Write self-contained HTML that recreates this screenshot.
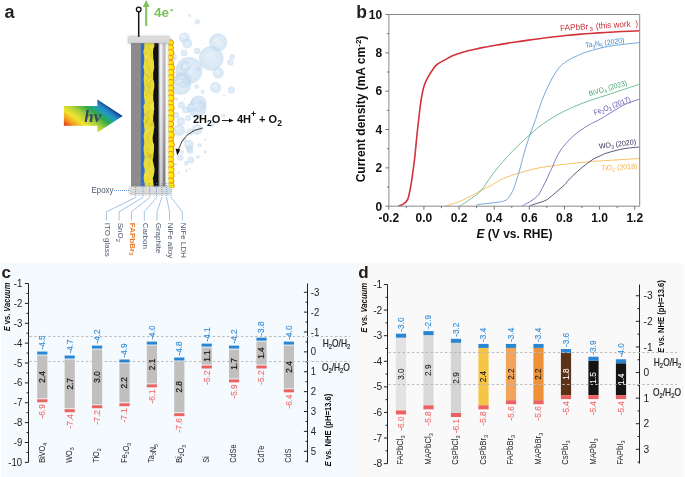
<!DOCTYPE html><html><head><meta charset="utf-8"><style>
html,body{margin:0;padding:0;background:#fff;}
svg{display:block;will-change:transform;font-family:"Liberation Sans", sans-serif;}
</style></head><body>
<svg width="685" height="477" viewBox="0 0 685 477">
<defs>
<filter id="blur1" x="-20%" y="-50%" width="140%" height="200%"><feGaussianBlur stdDeviation="0.9"/></filter>
<radialGradient id="bub" cx="0.5" cy="0.5" r="0.5"><stop offset="0" stop-color="#d2e4f4" stop-opacity="0.6"/><stop offset="0.85" stop-color="#c2daef" stop-opacity="0.62"/><stop offset="1" stop-color="#b8d4ed" stop-opacity="0.6"/></radialGradient>
<linearGradient id="graphv" x1="0" x2="0" y1="0" y2="1"><stop offset="0" stop-color="#e2e2e2"/><stop offset="0.5" stop-color="#c8c8c8"/><stop offset="1" stop-color="#8c8c8c"/></linearGradient>
<linearGradient id="graph" x1="0" x2="1" y1="0" y2="0"><stop offset="0" stop-color="#000" stop-opacity="0.15"/><stop offset="0.15" stop-color="#fff" stop-opacity="0.5"/><stop offset="0.5" stop-color="#fff" stop-opacity="0.55"/><stop offset="0.75" stop-color="#000" stop-opacity="0.05"/><stop offset="1" stop-color="#000" stop-opacity="0.35"/></linearGradient>
<linearGradient id="alloy" x1="0" x2="1" y1="0" y2="0"><stop offset="0" stop-color="#f4f4f4"/><stop offset="0.5" stop-color="#fbfbfb"/><stop offset="1" stop-color="#d8d8d8"/></linearGradient>
<linearGradient id="cap" x1="0" x2="0" y1="0" y2="1"><stop offset="0" stop-color="#dcdcdc"/><stop offset="0.8" stop-color="#d8d8d8"/><stop offset="1" stop-color="#c8c8c8"/></linearGradient>
<linearGradient id="rainbow" x1="64" y1="126" x2="90.4" y2="90.8" gradientUnits="userSpaceOnUse">
<stop offset="0" stop-color="#e3201b"/><stop offset="0.15" stop-color="#f39a1e"/><stop offset="0.3" stop-color="#f2e52c"/><stop offset="0.48" stop-color="#a8cf3a"/><stop offset="0.66" stop-color="#2ea84a"/><stop offset="0.8" stop-color="#1e9ec0"/><stop offset="0.88" stop-color="#2a7dc0"/><stop offset="0.97" stop-color="#0c3d8a"/></linearGradient>
</defs>
<text x="4.50" y="18.10" font-size="18" fill="#231f20" font-weight="bold" text-anchor="start" >a</text>
<circle cx="197.4" cy="21.8" r="2.6" fill="url(#bub)"/>
<circle cx="184.4" cy="37.8" r="5.3" fill="url(#bub)"/>
<circle cx="187.3" cy="43.6" r="4.9" fill="url(#bub)"/>
<circle cx="218.2" cy="42.4" r="9.1" fill="url(#bub)"/>
<circle cx="197.2" cy="51" r="3.2" fill="url(#bub)"/>
<circle cx="184.1" cy="53" r="3.2" fill="url(#bub)"/>
<circle cx="211.2" cy="58.2" r="12.3" fill="url(#bub)"/>
<circle cx="232.2" cy="56.5" r="2.6" fill="url(#bub)"/>
<circle cx="230.5" cy="62.3" r="3.2" fill="url(#bub)"/>
<circle cx="172.7" cy="57" r="4.1" fill="url(#bub)"/>
<circle cx="189.6" cy="15.6" r="1.5" fill="url(#bub)"/>
<circle cx="189" cy="70.5" r="13.5" fill="url(#bub)"/>
<circle cx="185.5" cy="66.4" r="5.3" fill="url(#bub)"/>
<circle cx="183.2" cy="79.9" r="8.2" fill="url(#bub)"/>
<circle cx="180.8" cy="84.5" r="10.5" fill="url(#bub)"/>
<circle cx="218.2" cy="72.8" r="5.6" fill="url(#bub)"/>
<circle cx="197.8" cy="69.3" r="2.1" fill="url(#bub)"/>
<circle cx="215.6" cy="87.4" r="5.5" fill="url(#bub)"/>
<circle cx="231.4" cy="90.1" r="3.5" fill="url(#bub)"/>
<circle cx="196.6" cy="86.6" r="2.3" fill="url(#bub)"/>
<circle cx="202.7" cy="91.8" r="2.1" fill="url(#bub)"/>
<circle cx="224.1" cy="95.6" r="1.2" fill="url(#bub)"/>
<circle cx="198.4" cy="103.8" r="8.4" fill="url(#bub)"/>
<circle cx="181.4" cy="105" r="3.5" fill="url(#bub)"/>
<circle cx="176.4" cy="99.1" r="1.8" fill="url(#bub)"/>
<circle cx="184.4" cy="99.1" r="0.9" fill="url(#bub)"/>
<circle cx="191.4" cy="107.9" r="4.7" fill="url(#bub)"/>
<circle cx="197.2" cy="108.5" r="9.3" fill="url(#bub)"/>
<circle cx="180.8" cy="121.4" r="4.1" fill="url(#bub)"/>
<circle cx="179.1" cy="130.1" r="5.8" fill="url(#bub)"/>
<circle cx="176.2" cy="114.9" r="2.9" fill="url(#bub)"/>
<circle cx="197.2" cy="129.5" r="5.3" fill="url(#bub)"/>
<circle cx="189" cy="144.7" r="4.7" fill="url(#bub)"/>
<circle cx="199.5" cy="145.3" r="2.1" fill="url(#bub)"/>
<circle cx="223.5" cy="115.5" r="2.1" fill="url(#bub)"/>
<circle cx="205.4" cy="139.5" r="1.2" fill="url(#bub)"/>
<circle cx="189.6" cy="148.8" r="3.5" fill="url(#bub)"/>
<circle cx="185.5" cy="109.7" r="3.5" fill="url(#bub)"/>
<circle cx="211.8" cy="123.7" r="2.9" fill="url(#bub)"/>
<circle cx="205.4" cy="151.7" r="1.2" fill="url(#bub)"/>
<circle cx="188" cy="118" r="3" fill="url(#bub)"/>
<circle cx="190" cy="132" r="3.5" fill="url(#bub)"/>
<circle cx="184" cy="140" r="2.5" fill="url(#bub)"/>
<circle cx="180.3" cy="157.6" r="3.2" fill="url(#bub)"/>
<circle cx="190.8" cy="159.9" r="3.5" fill="url(#bub)"/>
<circle cx="186.1" cy="163.4" r="2.3" fill="url(#bub)"/>
<circle cx="197.8" cy="157" r="2.1" fill="url(#bub)"/>
<circle cx="190.2" cy="151.2" r="2.9" fill="url(#bub)"/>
<circle cx="175" cy="164.6" r="1.8" fill="url(#bub)"/>
<circle cx="186.5" cy="170.8" r="1.4" fill="url(#bub)"/>
<circle cx="178.7" cy="172.8" r="1.2" fill="url(#bub)"/>
<circle cx="205.1" cy="151.8" r="1.2" fill="url(#bub)"/>
<circle cx="182" cy="152.1" r="1.8" fill="url(#bub)"/>
<circle cx="189.6" cy="168.7" r="0.9" fill="url(#bub)"/>
<line x1="182.02" y1="36.85" x2="184.51" y2="35.57" stroke="#fff" stroke-width="0.8" stroke-linecap="round" opacity="0.85"/>
<line x1="185.09" y1="42.72" x2="187.40" y2="41.54" stroke="#fff" stroke-width="0.8" stroke-linecap="round" opacity="0.85"/>
<line x1="214.10" y1="40.76" x2="218.38" y2="38.58" stroke="#fff" stroke-width="0.8" stroke-linecap="round" opacity="0.85"/>
<line x1="205.66" y1="55.99" x2="211.45" y2="53.03" stroke="#fff" stroke-width="0.8" stroke-linecap="round" opacity="0.85"/>
<line x1="182.93" y1="68.07" x2="189.27" y2="64.83" stroke="#fff" stroke-width="0.8" stroke-linecap="round" opacity="0.85"/>
<line x1="183.12" y1="65.45" x2="185.61" y2="64.17" stroke="#fff" stroke-width="0.8" stroke-linecap="round" opacity="0.85"/>
<line x1="179.51" y1="78.42" x2="183.36" y2="76.46" stroke="#fff" stroke-width="0.8" stroke-linecap="round" opacity="0.85"/>
<line x1="176.08" y1="82.61" x2="181.01" y2="80.09" stroke="#fff" stroke-width="0.8" stroke-linecap="round" opacity="0.85"/>
<line x1="215.68" y1="71.79" x2="218.31" y2="70.45" stroke="#fff" stroke-width="0.8" stroke-linecap="round" opacity="0.85"/>
<line x1="213.12" y1="86.41" x2="215.71" y2="85.09" stroke="#fff" stroke-width="0.8" stroke-linecap="round" opacity="0.85"/>
<line x1="194.62" y1="102.29" x2="198.57" y2="100.27" stroke="#fff" stroke-width="0.8" stroke-linecap="round" opacity="0.85"/>
<line x1="189.28" y1="107.05" x2="191.49" y2="105.93" stroke="#fff" stroke-width="0.8" stroke-linecap="round" opacity="0.85"/>
<line x1="193.01" y1="106.83" x2="197.39" y2="104.59" stroke="#fff" stroke-width="0.8" stroke-linecap="round" opacity="0.85"/>
<line x1="176.49" y1="129.06" x2="179.22" y2="127.66" stroke="#fff" stroke-width="0.8" stroke-linecap="round" opacity="0.85"/>
<line x1="194.81" y1="128.55" x2="197.31" y2="127.27" stroke="#fff" stroke-width="0.8" stroke-linecap="round" opacity="0.85"/>
<line x1="186.88" y1="143.85" x2="189.09" y2="142.73" stroke="#fff" stroke-width="0.8" stroke-linecap="round" opacity="0.85"/>
<rect x="131" y="43.0" width="10" height="143.6" fill="#8c8c8c"/>
<rect x="140.9" y="43.0" width="5" height="143.6" fill="#2b6fcf"/>
<rect x="152" y="43.0" width="6.8" height="143.6" fill="#121212"/>
<polygon points="144.22,43.00 144.34,46.00 144.18,49.00 143.31,52.00 143.94,55.00 144.42,58.00 144.16,61.00 143.85,64.00 143.30,67.00 144.10,70.00 144.29,73.00 143.99,76.00 143.63,79.00 143.97,82.00 144.10,85.00 144.38,88.00 144.13,91.00 143.92,94.00 143.99,97.00 144.45,100.00 144.78,103.00 143.51,106.00 143.88,109.00 144.02,112.00 144.35,115.00 143.98,118.00 143.53,121.00 143.98,124.00 144.16,127.00 144.62,130.00 144.12,133.00 143.51,136.00 143.99,139.00 144.23,142.00 144.12,145.00 143.60,148.00 143.77,151.00 144.14,154.00 144.47,157.00 144.29,160.00 143.62,163.00 143.64,166.00 144.61,169.00 144.69,172.00 143.82,175.00 143.65,178.00 144.00,181.00 144.81,184.00 144.64,186.60 154.16,186.60 153.26,184.00 152.88,181.00 152.86,178.00 153.79,175.00 154.33,172.00 154.56,169.00 153.99,166.00 153.31,163.00 152.64,160.00 153.28,157.00 153.47,154.00 153.94,151.00 154.03,148.00 154.13,145.00 153.03,142.00 152.66,139.00 152.79,136.00 153.53,133.00 153.79,130.00 154.41,127.00 153.86,124.00 153.18,121.00 153.15,118.00 153.38,115.00 153.67,112.00 154.27,109.00 153.98,106.00 154.04,103.00 153.30,100.00 153.23,97.00 153.28,94.00 153.55,91.00 154.19,88.00 154.35,85.00 154.05,82.00 153.18,79.00 153.18,76.00 153.10,73.00 153.78,70.00 154.26,67.00 153.96,64.00 153.90,61.00 153.05,58.00 153.10,55.00 153.00,52.00 153.34,49.00 154.49,46.00 154.13,43.00" fill="#e9db38"/>
<polygon points="145.98,176.78 147.74,178.60 146.03,180.49" fill="#efe040" opacity="0.4"/>
<polygon points="154.60,122.91 153.54,127.24 150.47,126.99 149.85,123.10 152.16,120.78" fill="#cbb925" opacity="0.4"/>
<polygon points="147.43,54.97 144.23,54.59 146.33,51.06" fill="#d2c12a" opacity="0.4"/>
<polygon points="151.88,166.26 149.40,169.85 147.95,165.08" fill="#f5e84e" opacity="0.4"/>
<polygon points="143.82,57.41 145.96,53.24 148.25,56.53 146.58,60.44" fill="#f5e84e" opacity="0.4"/>
<polygon points="148.73,181.25 151.14,178.31 153.59,179.87 153.38,184.14 150.45,184.14" fill="#f3e548" opacity="0.4"/>
<polygon points="149.04,159.36 151.45,157.43 151.35,161.06" fill="#f5e84e" opacity="0.4"/>
<polygon points="150.64,109.71 150.46,105.47 153.80,104.27 154.26,109.71" fill="#f5e84e" opacity="0.4"/>
<polygon points="144.94,157.68 144.71,155.66 146.44,155.16 147.76,156.47 146.60,158.61" fill="#d2c12a" opacity="0.4"/>
<polygon points="145.67,145.18 147.85,145.34 146.64,148.29" fill="#f3e548" opacity="0.4"/>
<polygon points="146.14,118.03 148.16,123.04 144.91,123.97" fill="#d2c12a" opacity="0.4"/>
<polygon points="146.50,83.41 146.61,77.20 150.23,79.99" fill="#efe040" opacity="0.4"/>
<polygon points="152.73,105.59 150.99,105.35 150.44,103.21 151.93,101.68 152.99,103.27" fill="#efe040" opacity="0.4"/>
<polygon points="150.78,119.99 147.40,121.18 148.57,115.12" fill="#d2c12a" opacity="0.4"/>
<polygon points="150.35,109.58 147.91,108.56 148.35,105.21 150.52,103.60 152.24,106.85" fill="#f3e548" opacity="0.4"/>
<polygon points="145.70,164.41 145.58,160.50 147.86,161.95" fill="#f5e84e" opacity="0.4"/>
<polygon points="153.04,64.34 152.24,67.30 150.49,65.56 151.23,63.12" fill="#f3e548" opacity="0.4"/>
<polygon points="145.02,94.35 146.52,93.06 147.31,95.23 145.64,96.64" fill="#d2c12a" opacity="0.4"/>
<polygon points="148.44,58.66 145.64,57.18 147.77,54.19" fill="#efe040" opacity="0.4"/>
<polygon points="147.32,112.75 149.23,113.32 148.35,115.36 146.40,114.58" fill="#d2c12a" opacity="0.4"/>
<polygon points="149.49,107.37 149.34,110.34 147.01,110.35 146.39,108.07 147.46,105.89" fill="#f3e548" opacity="0.4"/>
<polygon points="149.64,83.89 149.78,87.14 147.09,85.90" fill="#f3e548" opacity="0.4"/>
<polygon points="144.16,175.55 145.63,172.90 147.99,174.06 147.97,177.02 145.72,177.77" fill="#f5e84e" opacity="0.4"/>
<polygon points="151.29,180.56 152.28,183.02 150.08,183.16" fill="#f5e84e" opacity="0.4"/>
<polygon points="151.32,130.47 148.11,128.78 151.18,126.60" fill="#f5e84e" opacity="0.4"/>
<polygon points="145.08,75.74 146.50,73.63 148.28,75.10 147.05,77.24" fill="#d2c12a" opacity="0.4"/>
<polygon points="147.70,86.29 151.34,84.30 150.54,89.23" fill="#cbb925" opacity="0.4"/>
<polygon points="151.27,64.11 151.90,66.19 150.79,68.19 149.17,66.79 149.42,64.82" fill="#efe040" opacity="0.4"/>
<polygon points="151.85,157.98 149.92,159.06 148.46,156.61 149.85,153.69 151.83,154.70" fill="#cbb925" opacity="0.4"/>
<polygon points="152.79,158.44 150.12,160.14 147.90,156.51 149.76,153.62 152.76,154.26" fill="#cbb925" opacity="0.4"/>
<polygon points="150.09,54.06 153.11,53.66 153.75,57.61 150.33,57.48" fill="#d2c12a" opacity="0.4"/>
<polygon points="151.44,110.12 154.41,112.98 151.36,115.83" fill="#f3e548" opacity="0.4"/>
<polygon points="144.73,89.05 145.79,87.05 147.11,87.97 146.37,90.23" fill="#f3e548" opacity="0.4"/>
<polygon points="147.92,147.26 148.71,150.06 146.63,151.09 146.38,148.74" fill="#cbb925" opacity="0.4"/>
<polygon points="147.64,142.04 147.33,139.56 148.27,138.57 149.92,139.40 149.38,141.52" fill="#f5e84e" opacity="0.4"/>
<polygon points="149.54,53.09 149.05,55.07 147.59,55.81 147.17,53.72 148.03,52.43" fill="#f5e84e" opacity="0.4"/>
<polygon points="146.60,151.73 150.79,153.80 147.98,158.05" fill="#cbb925" opacity="0.4"/>
<polygon points="148.09,129.69 147.41,132.81 145.08,132.39 145.41,128.74" fill="#f3e548" opacity="0.4"/>
<polyline points="149.07,87.19 148.54,89.11 146.85,91.13 148.88,93.87" stroke="#b3a21c" stroke-width="0.5" fill="none" opacity="0.55"/>
<polyline points="150.98,76.40 152.80,79.02 151.00,81.00 148.95,83.36" stroke="#b3a21c" stroke-width="0.5" fill="none" opacity="0.55"/>
<polyline points="147.32,59.17 146.11,62.09 148.04,65.47 147.61,68.00" stroke="#b3a21c" stroke-width="0.5" fill="none" opacity="0.55"/>
<polyline points="148.07,117.03 147.26,118.68 146.15,122.60 144.80,125.36" stroke="#b3a21c" stroke-width="0.5" fill="none" opacity="0.55"/>
<polyline points="150.75,131.12 149.33,133.30 148.07,135.80 147.80,139.68" stroke="#b3a21c" stroke-width="0.5" fill="none" opacity="0.55"/>
<polyline points="150.80,160.38 148.41,161.96 149.46,165.70 149.32,168.67" stroke="#b3a21c" stroke-width="0.5" fill="none" opacity="0.55"/>
<polyline points="148.15,47.02 150.29,50.59 152.06,54.52 150.81,56.29" stroke="#b3a21c" stroke-width="0.5" fill="none" opacity="0.55"/>
<polyline points="148.87,67.62 149.78,71.48 150.89,74.60 152.22,77.24" stroke="#b3a21c" stroke-width="0.5" fill="none" opacity="0.55"/>
<polyline points="146.22,120.68 147.63,122.76 149.73,125.88 148.75,127.70" stroke="#b3a21c" stroke-width="0.5" fill="none" opacity="0.55"/>
<polyline points="149.50,80.64 150.49,82.42 148.34,85.23 148.76,87.70" stroke="#b3a21c" stroke-width="0.5" fill="none" opacity="0.55"/>
<polyline points="149.31,76.87 146.86,79.12 146.66,83.02 147.38,86.73" stroke="#b3a21c" stroke-width="0.5" fill="none" opacity="0.55"/>
<polyline points="147.29,110.50 146.03,114.40 147.05,116.67 144.80,119.42" stroke="#b3a21c" stroke-width="0.5" fill="none" opacity="0.55"/>
<polyline points="148.31,137.11 147.10,140.28 149.22,142.34 146.89,144.69" stroke="#b3a21c" stroke-width="0.5" fill="none" opacity="0.55"/>
<polyline points="149.75,103.19 148.24,106.68 149.44,109.44 147.97,113.37" stroke="#b3a21c" stroke-width="0.5" fill="none" opacity="0.55"/>
<polyline points="150.51,88.65 149.16,90.70 150.47,92.94 152.73,95.68" stroke="#b3a21c" stroke-width="0.5" fill="none" opacity="0.55"/>
<polyline points="147.23,72.03 146.81,75.19 149.06,77.05 148.52,79.09" stroke="#b3a21c" stroke-width="0.5" fill="none" opacity="0.55"/>
<rect x="158.8" y="43.0" width="6.8" height="143.6" fill="url(#graphv)"/>
<rect x="158.8" y="43.0" width="6.8" height="143.6" fill="url(#graph)"/>
<rect x="165.6" y="43.0" width="3.2" height="143.6" fill="url(#alloy)"/>
<clipPath id="beadclip"><rect x="168.7" y="38" width="8" height="150"/></clipPath><g clip-path="url(#beadclip)">
<circle cx="170.7" cy="42.5" r="2.79" fill="#fff000" stroke="#f5821f" stroke-width="1"/>
<circle cx="170.7" cy="47.6" r="2.94" fill="#fff000" stroke="#f5821f" stroke-width="1"/>
<circle cx="170.7" cy="52.8" r="3.25" fill="#fff000" stroke="#f5821f" stroke-width="1"/>
<circle cx="170.7" cy="57.5" r="2.52" fill="#fff000" stroke="#f5821f" stroke-width="1"/>
<circle cx="170.7" cy="63.0" r="2.81" fill="#fff000" stroke="#f5821f" stroke-width="1"/>
<circle cx="170.7" cy="67.8" r="3.69" fill="#fff000" stroke="#f5821f" stroke-width="1"/>
<circle cx="170.7" cy="72.9" r="3.50" fill="#fff000" stroke="#f5821f" stroke-width="1"/>
<circle cx="170.7" cy="77.9" r="3.27" fill="#fff000" stroke="#f5821f" stroke-width="1"/>
<circle cx="170.7" cy="82.7" r="3.26" fill="#fff000" stroke="#f5821f" stroke-width="1"/>
<circle cx="170.7" cy="88.2" r="3.13" fill="#fff000" stroke="#f5821f" stroke-width="1"/>
<circle cx="170.7" cy="93.5" r="3.31" fill="#fff000" stroke="#f5821f" stroke-width="1"/>
<circle cx="170.7" cy="98.2" r="3.41" fill="#fff000" stroke="#f5821f" stroke-width="1"/>
<circle cx="170.7" cy="103.3" r="2.86" fill="#fff000" stroke="#f5821f" stroke-width="1"/>
<circle cx="170.7" cy="108.0" r="3.54" fill="#fff000" stroke="#f5821f" stroke-width="1"/>
<circle cx="170.7" cy="113.1" r="3.36" fill="#fff000" stroke="#f5821f" stroke-width="1"/>
<circle cx="170.7" cy="118.5" r="3.36" fill="#fff000" stroke="#f5821f" stroke-width="1"/>
<circle cx="170.7" cy="124.1" r="2.97" fill="#fff000" stroke="#f5821f" stroke-width="1"/>
<circle cx="170.7" cy="129.5" r="3.03" fill="#fff000" stroke="#f5821f" stroke-width="1"/>
<circle cx="170.7" cy="135.0" r="3.55" fill="#fff000" stroke="#f5821f" stroke-width="1"/>
<circle cx="170.7" cy="139.7" r="2.66" fill="#fff000" stroke="#f5821f" stroke-width="1"/>
<circle cx="170.7" cy="144.5" r="3.66" fill="#fff000" stroke="#f5821f" stroke-width="1"/>
<circle cx="170.7" cy="149.5" r="3.25" fill="#fff000" stroke="#f5821f" stroke-width="1"/>
<circle cx="170.7" cy="154.4" r="3.11" fill="#fff000" stroke="#f5821f" stroke-width="1"/>
<circle cx="170.7" cy="159.4" r="2.92" fill="#fff000" stroke="#f5821f" stroke-width="1"/>
<circle cx="170.7" cy="164.6" r="3.20" fill="#fff000" stroke="#f5821f" stroke-width="1"/>
<circle cx="170.7" cy="170.1" r="3.32" fill="#fff000" stroke="#f5821f" stroke-width="1"/>
<circle cx="170.7" cy="175.6" r="3.53" fill="#fff000" stroke="#f5821f" stroke-width="1"/>
<circle cx="170.7" cy="181.2" r="3.31" fill="#fff000" stroke="#f5821f" stroke-width="1"/>
<circle cx="170.7" cy="186.0" r="3.53" fill="#fff000" stroke="#f5821f" stroke-width="1"/>
</g>
<rect x="128.2" y="36.4" width="41.4" height="7" fill="#707070" opacity="0.55" filter="url(#blur1)"/>
<rect x="128.5" y="37" width="41" height="6.1" fill="url(#cap)"/>
<rect x="129.5" y="186.4" width="41" height="8" fill="#707070" opacity="0.5" filter="url(#blur1)"/>
<rect x="129.9" y="186.7" width="40.4" height="7.2" fill="url(#cap)"/>
<line x1="138.7" y1="11.8" x2="138.7" y2="36.8" stroke="#111" stroke-width="1.5"/>
<circle cx="138.7" cy="9.4" r="2.3" fill="#fff" stroke="#111" stroke-width="1.3"/>
<line x1="146.2" y1="26" x2="146.2" y2="6" stroke="#7cc35a" stroke-width="2"/>
<path d="M142.9 7 L146.2 0 L149.6 7 Z" fill="#7cc35a"/>
<text x="154.00" y="16.70" font-size="13.5" fill="#7cc35a" font-weight="bold" text-anchor="start" >4e</text>
<rect x="170.3" y="9.4" width="2.7" height="1.5" fill="#7cc35a"/>
<path d="M63.9 106.1 L97.3 106.1 L97.3 99.5 L122.7 116 L97.3 132.6 L97.3 125.8 L63.9 125.8 Z" fill="url(#rainbow)"/>
<text x="84.20" y="121.80" font-size="17" fill="#3a4462" font-weight="bold" text-anchor="start" font-style="italic" font-family='"Liberation Serif", serif' >hv</text>
<text x="193" y="122.7" font-size="11" font-weight="bold" fill="#111">2H<tspan font-size="8.5" dy="3">2</tspan><tspan dy="-3">O</tspan></text>
<line x1="221.8" y1="120.5" x2="230" y2="120.5" stroke="#111" stroke-width="0.9"/>
<path d="M229 118.5 L233.6 120.5 L229 122.5 Z" fill="#111"/>
<text x="237" y="122.7" font-size="11" font-weight="bold" fill="#111">4H<tspan font-size="8.5" dy="-6">+</tspan><tspan dy="6"> + O</tspan><tspan font-size="8.5" dy="3">2</tspan></text>
<path d="M202.7 128 Q184 131 178.2 150" stroke="#111" stroke-width="0.8" fill="none"/>
<path d="M175.6 148.5 L177.3 155.5 L180.3 149.5 Z" fill="#111"/>
<text x="91.6" y="193.0" font-size="8.6" fill="#4f5a6e" textLength="21.8" lengthAdjust="spacingAndGlyphs">Epoxy</text>
<line x1="114" y1="190.5" x2="130" y2="190.5" stroke="#5b95d2" stroke-width="1" stroke-dasharray="1 1"/>
<line x1="135.6" y1="183" x2="135.6" y2="197.5" stroke="#5b95d2" stroke-width="0.8" stroke-dasharray="1 1"/>
<polyline points="135.6,197.5 106.4,211.8 106.4,220.5" stroke="#78aadf" stroke-width="0.7" fill="none"/>
<text x="105.10" y="222.7" font-size="8" fill="#4f5a6e" font-weight="normal" transform="rotate(90 105.10 222.7)">ITO glass</text>
<line x1="142.9" y1="183" x2="142.9" y2="197.5" stroke="#5b95d2" stroke-width="0.8" stroke-dasharray="1 1"/>
<polyline points="142.9,197.5 119.1,211.8 119.1,220.5" stroke="#78aadf" stroke-width="0.7" fill="none"/>
<text x="117.80" y="222.7" font-size="8" fill="#4f5a6e" font-weight="normal" transform="rotate(90 117.80 222.7)">SnO<tspan font-size="6" dy="1.5">2</tspan></text>
<line x1="149.7" y1="183" x2="149.7" y2="197.5" stroke="#5b95d2" stroke-width="0.8" stroke-dasharray="1 1"/>
<polyline points="149.7,197.5 131.5,211.8 131.5,220.5" stroke="#78aadf" stroke-width="0.7" fill="none"/>
<text x="130.20" y="222.7" font-size="8" fill="#e87a2c" font-weight="bold" transform="rotate(90 130.20 222.7)">FAPbBr<tspan font-size="6" dy="1.5">3</tspan></text>
<line x1="156.5" y1="183" x2="156.5" y2="197.5" stroke="#5b95d2" stroke-width="0.8" stroke-dasharray="1 1"/>
<polyline points="156.5,197.5 144.3,211.8 144.3,220.5" stroke="#78aadf" stroke-width="0.7" fill="none"/>
<text x="143.00" y="222.7" font-size="8" fill="#4f5a6e" font-weight="normal" transform="rotate(90 143.00 222.7)">Carbon</text>
<line x1="161.9" y1="183" x2="161.9" y2="197.5" stroke="#5b95d2" stroke-width="0.8" stroke-dasharray="1 1"/>
<polyline points="161.9,197.5 157.0,211.8 157.0,220.5" stroke="#78aadf" stroke-width="0.7" fill="none"/>
<text x="155.70" y="222.7" font-size="8" fill="#4f5a6e" font-weight="normal" transform="rotate(90 155.70 222.7)">Graphite</text>
<line x1="166.6" y1="183" x2="166.6" y2="197.5" stroke="#5b95d2" stroke-width="0.8" stroke-dasharray="1 1"/>
<polyline points="166.6,197.5 169.5,211.8 169.5,220.5" stroke="#78aadf" stroke-width="0.7" fill="none"/>
<text x="168.20" y="222.7" font-size="8" fill="#4f5a6e" font-weight="normal" transform="rotate(90 168.20 222.7)">NiFe alloy</text>
<line x1="171.2" y1="183" x2="171.2" y2="197.5" stroke="#5b95d2" stroke-width="0.8" stroke-dasharray="1 1"/>
<polyline points="171.2,197.5 182.3,211.8 182.3,220.5" stroke="#78aadf" stroke-width="0.7" fill="none"/>
<text x="181.00" y="222.7" font-size="8" fill="#4f5a6e" font-weight="normal" transform="rotate(90 181.00 222.7)">NiFe LDH</text>
<text x="356.2" y="17.9" font-size="17.5" font-weight="bold" fill="#231f20">b</text>
<clipPath id="clipb"><rect x="388.9" y="14.5" width="250.80000000000007" height="191.7"/></clipPath>
<g clip-path="url(#clipb)" fill="none">
<path d="M445.20 205.90 C446.08 205.68 447.87 205.43 450.50 204.60 C453.13 203.77 457.50 202.38 461.00 200.90 C464.50 199.42 468.00 197.53 471.50 195.70 C475.00 193.87 478.50 191.73 482.00 189.90 C485.50 188.07 488.92 186.60 492.50 184.70 C496.08 182.80 498.87 180.50 503.50 178.50 C508.13 176.50 514.72 174.40 520.30 172.70 C525.88 171.00 530.92 169.55 537.00 168.30 C543.08 167.05 550.70 166.03 556.80 165.20 C562.90 164.37 568.02 163.90 573.60 163.30 C579.18 162.70 584.72 162.07 590.30 161.60 C595.88 161.13 598.82 161.02 607.10 160.50 C615.38 159.98 634.52 158.83 640.00 158.50" stroke="#f6b64c" stroke-width="0.85"/>
<path d="M460.00 205.90 C461.03 205.25 463.42 203.88 466.20 202.00 C468.98 200.12 474.07 196.70 476.70 194.60 C479.33 192.50 480.25 191.50 482.00 189.40 C483.75 187.30 485.02 185.07 487.20 182.00 C489.38 178.93 492.38 174.50 495.10 171.00 C497.82 167.50 500.70 164.20 503.50 161.00 C506.30 157.80 509.10 154.73 511.90 151.80 C514.70 148.87 517.50 146.05 520.30 143.40 C523.10 140.75 525.42 138.78 528.70 135.90 C531.98 133.02 535.32 129.55 540.00 126.10 C544.68 122.65 551.20 118.42 556.80 115.20 C562.40 111.98 568.02 109.27 573.60 106.80 C579.18 104.33 584.72 102.37 590.30 100.40 C595.88 98.43 601.82 96.73 607.10 95.00 C612.38 93.27 616.52 91.83 622.00 90.00 C627.48 88.17 637.00 85.00 640.00 84.00" stroke="#52ad80" stroke-width="0.8"/>
<path d="M476.70 205.90 C476.88 205.68 476.05 205.00 477.80 204.60 C479.55 204.20 484.32 203.83 487.20 203.50 C490.08 203.17 492.38 202.98 495.10 202.60 C497.82 202.22 501.27 201.98 503.50 201.20 C505.73 200.42 506.82 199.98 508.50 197.90 C510.18 195.82 511.92 192.75 513.60 188.70 C515.28 184.65 516.93 179.20 518.60 173.60 C520.27 168.00 521.92 160.97 523.60 155.10 C525.28 149.23 526.72 144.30 528.70 138.40 C530.68 132.50 533.32 125.97 535.50 119.70 C537.68 113.43 539.35 107.08 541.80 100.80 C544.25 94.52 547.40 87.42 550.20 82.00 C553.00 76.58 555.80 71.80 558.60 68.30 C561.40 64.80 563.87 63.10 567.00 61.00 C570.13 58.90 573.90 57.28 577.40 55.70 C580.90 54.12 582.73 53.07 588.00 51.50 C593.27 49.93 600.33 47.80 609.00 46.30 C617.67 44.80 634.83 43.13 640.00 42.50" stroke="#5294d2" stroke-width="0.8"/>
<path d="M521.90 206.20 C522.50 205.87 524.22 204.92 525.50 204.20 C526.78 203.48 528.35 202.67 529.60 201.90 C530.85 201.13 531.90 200.38 533.00 199.60 C534.10 198.82 535.18 198.15 536.20 197.20 C537.22 196.25 538.02 195.55 539.10 193.90 C540.18 192.25 541.48 189.62 542.70 187.30 C543.92 184.98 545.27 182.38 546.40 180.00 C547.53 177.62 548.52 175.13 549.50 173.00 C550.48 170.87 551.10 169.88 552.30 167.20 C553.50 164.52 554.98 160.20 556.70 156.90 C558.42 153.60 560.40 150.33 562.60 147.40 C564.80 144.47 567.45 141.75 569.90 139.30 C572.35 136.85 574.85 134.65 577.30 132.70 C579.75 130.75 581.92 129.30 584.60 127.60 C587.28 125.90 591.10 123.73 593.40 122.50 C595.70 121.27 596.17 121.43 598.40 120.20 C600.63 118.97 604.02 116.78 606.80 115.10 C609.58 113.42 612.32 111.77 615.10 110.10 C617.88 108.43 620.70 106.50 623.50 105.10 C626.30 103.70 629.15 102.72 631.90 101.70 C634.65 100.68 638.65 99.45 640.00 99.00" stroke="#5f5ab4" stroke-width="0.8"/>
<path d="M529.40 206.20 C529.83 206.00 530.75 205.47 532.00 205.00 C533.25 204.53 534.62 204.17 536.90 203.40 C539.18 202.63 543.52 201.42 545.70 200.40 C547.88 199.38 548.43 198.52 550.00 197.30 C551.57 196.08 553.43 194.52 555.10 193.10 C556.77 191.68 558.35 190.25 560.00 188.80 C561.65 187.35 563.58 185.87 565.00 184.40 C566.42 182.93 566.45 182.13 568.50 180.00 C570.55 177.87 574.37 174.22 577.30 171.60 C580.23 168.98 583.42 166.38 586.10 164.30 C588.78 162.22 591.02 160.52 593.40 159.10 C595.78 157.68 598.12 156.83 600.40 155.80 C602.68 154.77 603.18 154.08 607.10 152.90 C611.02 151.72 618.42 149.68 623.90 148.70 C629.38 147.72 637.32 147.28 640.00 147.00" stroke="#30315c" stroke-width="0.8"/>
<path d="M398.50 205.90 C398.92 205.80 400.05 205.72 401.00 205.30 C401.95 204.88 403.08 204.38 404.20 203.40 C405.32 202.42 406.73 201.60 407.70 199.40 C408.67 197.20 409.23 194.05 410.00 190.20 C410.77 186.35 411.52 181.70 412.30 176.30 C413.08 170.90 413.92 164.73 414.70 157.80 C415.48 150.87 416.23 142.02 417.00 134.70 C417.77 127.38 418.62 119.68 419.30 113.90 C419.98 108.12 420.33 104.57 421.10 100.00 C421.87 95.43 422.80 90.22 423.90 86.50 C425.00 82.78 426.02 80.83 427.70 77.70 C429.38 74.57 432.32 70.00 434.00 67.70 C435.68 65.40 435.92 65.25 437.80 63.90 C439.68 62.55 442.75 60.98 445.30 59.60 C447.85 58.22 450.32 56.80 453.10 55.60 C455.88 54.40 458.70 53.38 462.00 52.40 C465.30 51.42 469.57 50.50 472.90 49.70 C476.23 48.90 478.72 48.25 482.00 47.60 C485.28 46.95 489.27 46.38 492.60 45.80 C495.93 45.22 498.72 44.65 502.00 44.10 C505.28 43.55 509.30 42.95 512.30 42.50 C515.30 42.05 516.53 41.90 520.00 41.40 C523.47 40.90 528.72 40.12 533.10 39.50 C537.48 38.88 541.92 38.25 546.30 37.70 C550.68 37.15 555.02 36.67 559.40 36.20 C563.78 35.73 568.22 35.30 572.60 34.90 C576.98 34.50 581.33 34.13 585.70 33.80 C590.07 33.47 594.75 33.17 598.80 32.90 C602.85 32.63 606.13 32.43 610.00 32.20 C613.87 31.97 617.00 31.73 622.00 31.50 C627.00 31.27 637.00 30.92 640.00 30.80" stroke="#d2323a" stroke-width="1.6"/>
</g>
<path d="M388.9 14.5 L639.7 14.5 L639.7 206.2 L388.9 206.2 Z" fill="none" stroke="#8a8a8a" stroke-width="1"/>
<line x1="385.4" y1="206.20" x2="388.9" y2="206.20" stroke="#555" stroke-width="0.8"/>
<text x="382.2" y="210.50" font-size="12" font-weight="bold" text-anchor="end" fill="#111">0</text>
<line x1="386.9" y1="187.03" x2="388.9" y2="187.03" stroke="#555" stroke-width="0.8"/>
<line x1="385.4" y1="167.86" x2="388.9" y2="167.86" stroke="#555" stroke-width="0.8"/>
<text x="382.2" y="172.16" font-size="12" font-weight="bold" text-anchor="end" fill="#111">2</text>
<line x1="386.9" y1="148.69" x2="388.9" y2="148.69" stroke="#555" stroke-width="0.8"/>
<line x1="385.4" y1="129.52" x2="388.9" y2="129.52" stroke="#555" stroke-width="0.8"/>
<text x="382.2" y="133.82" font-size="12" font-weight="bold" text-anchor="end" fill="#111">4</text>
<line x1="386.9" y1="110.35" x2="388.9" y2="110.35" stroke="#555" stroke-width="0.8"/>
<line x1="385.4" y1="91.18" x2="388.9" y2="91.18" stroke="#555" stroke-width="0.8"/>
<text x="382.2" y="95.48" font-size="12" font-weight="bold" text-anchor="end" fill="#111">6</text>
<line x1="386.9" y1="72.01" x2="388.9" y2="72.01" stroke="#555" stroke-width="0.8"/>
<line x1="385.4" y1="52.84" x2="388.9" y2="52.84" stroke="#555" stroke-width="0.8"/>
<text x="382.2" y="57.14" font-size="12" font-weight="bold" text-anchor="end" fill="#111">8</text>
<line x1="386.9" y1="33.67" x2="388.9" y2="33.67" stroke="#555" stroke-width="0.8"/>
<line x1="385.4" y1="14.50" x2="388.9" y2="14.50" stroke="#555" stroke-width="0.8"/>
<text x="382.2" y="18.80" font-size="12" font-weight="bold" text-anchor="end" fill="#111">10</text>
<line x1="388.76" y1="206.2" x2="388.76" y2="209.7" stroke="#555" stroke-width="0.8"/>
<text x="388.76" y="221.8" font-size="12" font-weight="bold" text-anchor="middle" fill="#111">-0.2</text>
<line x1="406.33" y1="206.2" x2="406.33" y2="208.2" stroke="#555" stroke-width="0.8"/>
<line x1="423.90" y1="206.2" x2="423.90" y2="209.7" stroke="#555" stroke-width="0.8"/>
<text x="423.90" y="221.8" font-size="12" font-weight="bold" text-anchor="middle" fill="#111">0.0</text>
<line x1="441.47" y1="206.2" x2="441.47" y2="208.2" stroke="#555" stroke-width="0.8"/>
<line x1="459.04" y1="206.2" x2="459.04" y2="209.7" stroke="#555" stroke-width="0.8"/>
<text x="459.04" y="221.8" font-size="12" font-weight="bold" text-anchor="middle" fill="#111">0.2</text>
<line x1="476.61" y1="206.2" x2="476.61" y2="208.2" stroke="#555" stroke-width="0.8"/>
<line x1="494.18" y1="206.2" x2="494.18" y2="209.7" stroke="#555" stroke-width="0.8"/>
<text x="494.18" y="221.8" font-size="12" font-weight="bold" text-anchor="middle" fill="#111">0.4</text>
<line x1="511.75" y1="206.2" x2="511.75" y2="208.2" stroke="#555" stroke-width="0.8"/>
<line x1="529.32" y1="206.2" x2="529.32" y2="209.7" stroke="#555" stroke-width="0.8"/>
<text x="529.32" y="221.8" font-size="12" font-weight="bold" text-anchor="middle" fill="#111">0.6</text>
<line x1="546.89" y1="206.2" x2="546.89" y2="208.2" stroke="#555" stroke-width="0.8"/>
<line x1="564.46" y1="206.2" x2="564.46" y2="209.7" stroke="#555" stroke-width="0.8"/>
<text x="564.46" y="221.8" font-size="12" font-weight="bold" text-anchor="middle" fill="#111">0.8</text>
<line x1="582.03" y1="206.2" x2="582.03" y2="208.2" stroke="#555" stroke-width="0.8"/>
<line x1="599.60" y1="206.2" x2="599.60" y2="209.7" stroke="#555" stroke-width="0.8"/>
<text x="599.60" y="221.8" font-size="12" font-weight="bold" text-anchor="middle" fill="#111">1.0</text>
<line x1="617.17" y1="206.2" x2="617.17" y2="208.2" stroke="#555" stroke-width="0.8"/>
<line x1="634.74" y1="206.2" x2="634.74" y2="209.7" stroke="#555" stroke-width="0.8"/>
<text x="634.74" y="221.8" font-size="12" font-weight="bold" text-anchor="middle" fill="#111">1.2</text>
<text x="514.5" y="238" font-size="12" font-weight="bold" text-anchor="middle" fill="#111"><tspan font-style="italic">E</tspan> (V vs. RHE)</text>
<text x="365.4" y="109" font-size="12" font-weight="bold" text-anchor="middle" fill="#111" transform="rotate(-90 365.4 109)">Current density (mA cm<tspan font-size="8" dy="-4.5">-2</tspan><tspan dy="4.5">)</tspan></text>
<text x="560.3" y="30.9" font-size="8.5" fill="#c9303a" transform="rotate(-3.4 560.3 30.9)" textLength="78" lengthAdjust="spacingAndGlyphs">FAPbBr<tspan font-size="6" dx="1.2" dy="2">3</tspan><tspan dy="-2" dx="1"> (this work&#160;&#160;)</tspan></text>
<text x="585.4" y="47.8" font-size="7.4" fill="#3f86c8" transform="rotate(-7.3 585.4 47.8)" textLength="39.5" lengthAdjust="spacingAndGlyphs">Ta<tspan font-size="5.3" dy="1.6">3</tspan><tspan dy="-1.6">N</tspan><tspan font-size="5.3" dy="1.6">5</tspan><tspan dy="-1.6"> (2020)</tspan></text>
<text x="589.6" y="96.2" font-size="7.4" fill="#45a672" transform="rotate(-16.5 589.6 96.2)" textLength="39.5" lengthAdjust="spacingAndGlyphs">BiVO<tspan font-size="5.3" dy="1.6">4</tspan><tspan dy="-1.6"> (2023)</tspan></text>
<text x="594.8" y="115.3" font-size="7.4" fill="#554fa8" transform="rotate(-21.2 594.8 115.3)" textLength="39" lengthAdjust="spacingAndGlyphs">Fe<tspan font-size="5.3" dy="1.6">2</tspan><tspan dy="-1.6">O</tspan><tspan font-size="5.3" dy="1.6">3</tspan><tspan dy="-1.6"> (2017)</tspan></text>
<text x="599.2" y="148.8" font-size="7.4" fill="#2e2f5a" transform="rotate(-7 599.2 148.8)" textLength="37.3" lengthAdjust="spacingAndGlyphs">WO<tspan font-size="5.3" dy="1.6">3</tspan><tspan dy="-1.6"> (2020)</tspan></text>
<text x="601.4" y="170.6" font-size="7.4" fill="#f5b041" transform="rotate(-3 601.4 170.6)" textLength="36" lengthAdjust="spacingAndGlyphs">TiO<tspan font-size="5.3" dy="1.6">2</tspan><tspan dy="-1.6"> (2018)</tspan></text>
<rect x="1" y="263.1" width="355" height="214" fill="#f4fafe"/>
<text x="1.5" y="277.5" font-size="17" font-weight="bold" fill="#231815">c</text>
<line x1="28.5" y1="283.5" x2="28.5" y2="462.375" stroke="#222" stroke-width="1"/>
<line x1="24.9" y1="283.50" x2="28.5" y2="283.50" stroke="#222" stroke-width="1"/>
<text transform="translate(22.2 287.10) scale(0.94 1)" font-size="10.2" text-anchor="end" fill="#222">-1</text>
<line x1="26.5" y1="293.44" x2="28.5" y2="293.44" stroke="#222" stroke-width="1"/>
<line x1="24.9" y1="303.38" x2="28.5" y2="303.38" stroke="#222" stroke-width="1"/>
<text transform="translate(22.2 306.98) scale(0.94 1)" font-size="10.2" text-anchor="end" fill="#222">-2</text>
<line x1="26.5" y1="313.31" x2="28.5" y2="313.31" stroke="#222" stroke-width="1"/>
<line x1="24.9" y1="323.25" x2="28.5" y2="323.25" stroke="#222" stroke-width="1"/>
<text transform="translate(22.2 326.85) scale(0.94 1)" font-size="10.2" text-anchor="end" fill="#222">-3</text>
<line x1="26.5" y1="333.19" x2="28.5" y2="333.19" stroke="#222" stroke-width="1"/>
<line x1="24.9" y1="343.12" x2="28.5" y2="343.12" stroke="#222" stroke-width="1"/>
<text transform="translate(22.2 346.73) scale(0.94 1)" font-size="10.2" text-anchor="end" fill="#222">-4</text>
<line x1="26.5" y1="353.06" x2="28.5" y2="353.06" stroke="#222" stroke-width="1"/>
<line x1="24.9" y1="363.00" x2="28.5" y2="363.00" stroke="#222" stroke-width="1"/>
<text transform="translate(22.2 366.60) scale(0.94 1)" font-size="10.2" text-anchor="end" fill="#222">-5</text>
<line x1="26.5" y1="372.94" x2="28.5" y2="372.94" stroke="#222" stroke-width="1"/>
<line x1="24.9" y1="382.88" x2="28.5" y2="382.88" stroke="#222" stroke-width="1"/>
<text transform="translate(22.2 386.48) scale(0.94 1)" font-size="10.2" text-anchor="end" fill="#222">-6</text>
<line x1="26.5" y1="392.81" x2="28.5" y2="392.81" stroke="#222" stroke-width="1"/>
<line x1="24.9" y1="402.75" x2="28.5" y2="402.75" stroke="#222" stroke-width="1"/>
<text transform="translate(22.2 406.35) scale(0.94 1)" font-size="10.2" text-anchor="end" fill="#222">-7</text>
<line x1="26.5" y1="412.69" x2="28.5" y2="412.69" stroke="#222" stroke-width="1"/>
<line x1="24.9" y1="422.62" x2="28.5" y2="422.62" stroke="#222" stroke-width="1"/>
<text transform="translate(22.2 426.23) scale(0.94 1)" font-size="10.2" text-anchor="end" fill="#222">-8</text>
<line x1="26.5" y1="432.56" x2="28.5" y2="432.56" stroke="#222" stroke-width="1"/>
<line x1="24.9" y1="442.50" x2="28.5" y2="442.50" stroke="#222" stroke-width="1"/>
<text transform="translate(22.2 446.10) scale(0.94 1)" font-size="10.2" text-anchor="end" fill="#222">-9</text>
<line x1="26.5" y1="452.44" x2="28.5" y2="452.44" stroke="#222" stroke-width="1"/>
<line x1="24.9" y1="462.38" x2="28.5" y2="462.38" stroke="#222" stroke-width="1"/>
<text transform="translate(22.2 465.98) scale(0.94 1)" font-size="10.2" text-anchor="end" fill="#222">-10</text>
<text transform="translate(10.00 307.00) rotate(-90) scale(0.92 1)" font-size="8.2" fill="#111" text-anchor="middle" font-weight="bold" ><tspan font-style="italic">E</tspan> vs. <tspan font-style="italic">Vacuum</tspan></text>
<line x1="307.5" y1="283.5" x2="307.5" y2="462.375" stroke="#222" stroke-width="1"/>
<line x1="303.9" y1="292.25" x2="307.5" y2="292.25" stroke="#222" stroke-width="1"/>
<text transform="translate(310.8 295.85) scale(0.94 1)" font-size="10.2" fill="#222">-3</text>
<line x1="303.9" y1="312.12" x2="307.5" y2="312.12" stroke="#222" stroke-width="1"/>
<text transform="translate(310.8 315.72) scale(0.94 1)" font-size="10.2" fill="#222">-2</text>
<line x1="303.9" y1="332.00" x2="307.5" y2="332.00" stroke="#222" stroke-width="1"/>
<text transform="translate(310.8 335.60) scale(0.94 1)" font-size="10.2" fill="#222">-1</text>
<line x1="303.9" y1="351.87" x2="307.5" y2="351.87" stroke="#222" stroke-width="1"/>
<text transform="translate(310.8 355.47) scale(0.94 1)" font-size="10.2" fill="#222">0</text>
<line x1="303.9" y1="371.75" x2="307.5" y2="371.75" stroke="#222" stroke-width="1"/>
<text transform="translate(310.8 375.35) scale(0.94 1)" font-size="10.2" fill="#222">1</text>
<line x1="303.9" y1="391.62" x2="307.5" y2="391.62" stroke="#222" stroke-width="1"/>
<text transform="translate(310.8 395.22) scale(0.94 1)" font-size="10.2" fill="#222">2</text>
<line x1="303.9" y1="411.50" x2="307.5" y2="411.50" stroke="#222" stroke-width="1"/>
<text transform="translate(310.8 415.10) scale(0.94 1)" font-size="10.2" fill="#222">3</text>
<line x1="303.9" y1="431.37" x2="307.5" y2="431.37" stroke="#222" stroke-width="1"/>
<text transform="translate(310.8 434.97) scale(0.94 1)" font-size="10.2" fill="#222">4</text>
<line x1="303.9" y1="451.25" x2="307.5" y2="451.25" stroke="#222" stroke-width="1"/>
<text transform="translate(310.8 454.85) scale(0.94 1)" font-size="10.2" fill="#222">5</text>
<line x1="305.5" y1="302.18" x2="307.5" y2="302.18" stroke="#222" stroke-width="1"/>
<line x1="305.5" y1="322.06" x2="307.5" y2="322.06" stroke="#222" stroke-width="1"/>
<line x1="305.5" y1="341.93" x2="307.5" y2="341.93" stroke="#222" stroke-width="1"/>
<line x1="305.5" y1="361.81" x2="307.5" y2="361.81" stroke="#222" stroke-width="1"/>
<line x1="305.5" y1="381.68" x2="307.5" y2="381.68" stroke="#222" stroke-width="1"/>
<line x1="305.5" y1="401.56" x2="307.5" y2="401.56" stroke="#222" stroke-width="1"/>
<line x1="305.5" y1="421.43" x2="307.5" y2="421.43" stroke="#222" stroke-width="1"/>
<line x1="305.5" y1="441.31" x2="307.5" y2="441.31" stroke="#222" stroke-width="1"/>
<line x1="305.5" y1="461.18" x2="307.5" y2="461.18" stroke="#222" stroke-width="1"/>
<text transform="translate(330.60 430.00) rotate(-90) scale(0.89 1)" font-size="8.6" fill="#111" text-anchor="middle" font-weight="bold" ><tspan font-style="italic">E</tspan> vs. NHE (pH=13.6)</text>
<line x1="29.5" y1="336.50" x2="350" y2="336.50" stroke="#bababa" stroke-width="1" stroke-dasharray="2.4 2.3"/>
<line x1="29.5" y1="361.50" x2="350" y2="361.50" stroke="#bababa" stroke-width="1" stroke-dasharray="2.4 2.3"/>
<rect x="37.20" y="355.46" width="10.2" height="42.90" fill="#c1c0bf"/>
<rect x="37.20" y="351.56" width="10.2" height="3.0" fill="#2a85d3"/>
<rect x="37.20" y="399.26" width="10.2" height="3.0" fill="#ea6262"/>
<text transform="translate(45.24 349.56) rotate(-90) scale(0.86 1)" font-size="9.6" fill="#3a8fd8" stroke="#3a8fd8" stroke-width="0.15" text-anchor="start" font-weight="normal" >-4.5</text>
<text transform="translate(45.24 404.26) rotate(-90) scale(0.86 1)" font-size="9.6" fill="#ee7070" stroke="#ee7070" stroke-width="0.15" text-anchor="end" font-weight="normal" >-6.9</text>
<text transform="translate(45.24 376.91) rotate(-90) scale(0.86 1)" font-size="9.6" fill="#1a1a1a" stroke="#1a1a1a" stroke-width="0.25" text-anchor="middle" font-weight="normal" >2.4</text>
<text transform="translate(44.54 462.80) rotate(-90) scale(0.86 1)" font-size="8.5" fill="#231f20" text-anchor="start" font-weight="normal" >BiVO<tspan font-size="6.12" dy="2">4</tspan><tspan dy="-2"></tspan></text>
<rect x="64.60" y="359.44" width="10.2" height="48.86" fill="#c1c0bf"/>
<rect x="64.60" y="355.54" width="10.2" height="3.0" fill="#2a85d3"/>
<rect x="64.60" y="409.20" width="10.2" height="3.0" fill="#ea6262"/>
<text transform="translate(72.64 353.54) rotate(-90) scale(0.86 1)" font-size="9.6" fill="#3a8fd8" stroke="#3a8fd8" stroke-width="0.15" text-anchor="start" font-weight="normal" >-4.7</text>
<text transform="translate(72.64 414.20) rotate(-90) scale(0.86 1)" font-size="9.6" fill="#ee7070" stroke="#ee7070" stroke-width="0.15" text-anchor="end" font-weight="normal" >-7.4</text>
<text transform="translate(72.64 383.87) rotate(-90) scale(0.86 1)" font-size="9.6" fill="#1a1a1a" stroke="#1a1a1a" stroke-width="0.25" text-anchor="middle" font-weight="normal" >2.7</text>
<text transform="translate(71.94 462.80) rotate(-90) scale(0.86 1)" font-size="8.5" fill="#231f20" text-anchor="start" font-weight="normal" >WO<tspan font-size="6.12" dy="2">3</tspan><tspan dy="-2"></tspan></text>
<rect x="92.00" y="349.50" width="10.2" height="54.83" fill="#c1c0bf"/>
<rect x="92.00" y="345.60" width="10.2" height="3.0" fill="#2a85d3"/>
<rect x="92.00" y="405.23" width="10.2" height="3.0" fill="#ea6262"/>
<text transform="translate(100.04 343.60) rotate(-90) scale(0.86 1)" font-size="9.6" fill="#3a8fd8" stroke="#3a8fd8" stroke-width="0.15" text-anchor="start" font-weight="normal" >-4.2</text>
<text transform="translate(100.04 410.23) rotate(-90) scale(0.86 1)" font-size="9.6" fill="#ee7070" stroke="#ee7070" stroke-width="0.15" text-anchor="end" font-weight="normal" >-7.2</text>
<text transform="translate(100.04 376.91) rotate(-90) scale(0.86 1)" font-size="9.6" fill="#1a1a1a" stroke="#1a1a1a" stroke-width="0.25" text-anchor="middle" font-weight="normal" >3.0</text>
<text transform="translate(99.34 462.80) rotate(-90) scale(0.86 1)" font-size="8.5" fill="#231f20" text-anchor="start" font-weight="normal" >TiO<tspan font-size="6.12" dy="2">2</tspan><tspan dy="-2"></tspan></text>
<rect x="119.40" y="363.41" width="10.2" height="38.93" fill="#c1c0bf"/>
<rect x="119.40" y="359.51" width="10.2" height="3.0" fill="#2a85d3"/>
<rect x="119.40" y="403.24" width="10.2" height="3.0" fill="#ea6262"/>
<text transform="translate(127.44 357.51) rotate(-90) scale(0.86 1)" font-size="9.6" fill="#3a8fd8" stroke="#3a8fd8" stroke-width="0.15" text-anchor="start" font-weight="normal" >-4.9</text>
<text transform="translate(127.44 408.24) rotate(-90) scale(0.86 1)" font-size="9.6" fill="#ee7070" stroke="#ee7070" stroke-width="0.15" text-anchor="end" font-weight="normal" >-7.1</text>
<text transform="translate(127.44 382.88) rotate(-90) scale(0.86 1)" font-size="9.6" fill="#1a1a1a" stroke="#1a1a1a" stroke-width="0.25" text-anchor="middle" font-weight="normal" >2.2</text>
<text transform="translate(126.74 462.80) rotate(-90) scale(0.86 1)" font-size="8.5" fill="#231f20" text-anchor="start" font-weight="normal" >Fe<tspan font-size="6.12" dy="2">2</tspan><tspan dy="-2"></tspan>O<tspan font-size="6.12" dy="2">3</tspan><tspan dy="-2"></tspan></text>
<rect x="146.80" y="345.52" width="10.2" height="37.93" fill="#c1c0bf"/>
<rect x="146.80" y="341.62" width="10.2" height="3.0" fill="#2a85d3"/>
<rect x="146.80" y="384.36" width="10.2" height="3.0" fill="#ea6262"/>
<text transform="translate(154.84 339.62) rotate(-90) scale(0.86 1)" font-size="9.6" fill="#3a8fd8" stroke="#3a8fd8" stroke-width="0.15" text-anchor="start" font-weight="normal" >-4.0</text>
<text transform="translate(154.84 389.36) rotate(-90) scale(0.86 1)" font-size="9.6" fill="#ee7070" stroke="#ee7070" stroke-width="0.15" text-anchor="end" font-weight="normal" >-6.1</text>
<text transform="translate(154.84 364.49) rotate(-90) scale(0.86 1)" font-size="9.6" fill="#1a1a1a" stroke="#1a1a1a" stroke-width="0.25" text-anchor="middle" font-weight="normal" >2.1</text>
<text transform="translate(154.14 462.80) rotate(-90) scale(0.86 1)" font-size="8.5" fill="#231f20" text-anchor="start" font-weight="normal" >Ta<tspan font-size="6.12" dy="2">3</tspan><tspan dy="-2"></tspan>N<tspan font-size="6.12" dy="2">5</tspan><tspan dy="-2"></tspan></text>
<rect x="174.20" y="361.42" width="10.2" height="50.85" fill="#c1c0bf"/>
<rect x="174.20" y="357.52" width="10.2" height="3.0" fill="#2a85d3"/>
<rect x="174.20" y="413.17" width="10.2" height="3.0" fill="#ea6262"/>
<text transform="translate(182.24 355.52) rotate(-90) scale(0.86 1)" font-size="9.6" fill="#3a8fd8" stroke="#3a8fd8" stroke-width="0.15" text-anchor="start" font-weight="normal" >-4.8</text>
<text transform="translate(182.24 418.17) rotate(-90) scale(0.86 1)" font-size="9.6" fill="#ee7070" stroke="#ee7070" stroke-width="0.15" text-anchor="end" font-weight="normal" >-7.6</text>
<text transform="translate(182.24 386.85) rotate(-90) scale(0.86 1)" font-size="9.6" fill="#1a1a1a" stroke="#1a1a1a" stroke-width="0.25" text-anchor="middle" font-weight="normal" >2.8</text>
<text transform="translate(181.54 462.80) rotate(-90) scale(0.86 1)" font-size="8.5" fill="#231f20" text-anchor="start" font-weight="normal" >Bi<tspan font-size="6.12" dy="2">2</tspan><tspan dy="-2"></tspan>O<tspan font-size="6.12" dy="2">3</tspan><tspan dy="-2"></tspan></text>
<rect x="201.60" y="347.51" width="10.2" height="17.06" fill="#c1c0bf"/>
<rect x="201.60" y="343.61" width="10.2" height="3.0" fill="#2a85d3"/>
<rect x="201.60" y="365.48" width="10.2" height="3.0" fill="#ea6262"/>
<text transform="translate(209.64 341.61) rotate(-90) scale(0.86 1)" font-size="9.6" fill="#3a8fd8" stroke="#3a8fd8" stroke-width="0.15" text-anchor="start" font-weight="normal" >-4.1</text>
<text transform="translate(209.64 370.48) rotate(-90) scale(0.86 1)" font-size="9.6" fill="#ee7070" stroke="#ee7070" stroke-width="0.15" text-anchor="end" font-weight="normal" >-5.2</text>
<text transform="translate(209.64 356.04) rotate(-90) scale(0.86 1)" font-size="9.6" fill="#1a1a1a" stroke="#1a1a1a" stroke-width="0.25" text-anchor="middle" font-weight="normal" >1.1</text>
<text transform="translate(208.94 462.80) rotate(-90) scale(0.86 1)" font-size="8.5" fill="#231f20" text-anchor="start" font-weight="normal" >Si</text>
<rect x="229.00" y="349.50" width="10.2" height="28.99" fill="#c1c0bf"/>
<rect x="229.00" y="345.60" width="10.2" height="3.0" fill="#2a85d3"/>
<rect x="229.00" y="379.39" width="10.2" height="3.0" fill="#ea6262"/>
<text transform="translate(237.04 343.60) rotate(-90) scale(0.86 1)" font-size="9.6" fill="#3a8fd8" stroke="#3a8fd8" stroke-width="0.15" text-anchor="start" font-weight="normal" >-4.2</text>
<text transform="translate(237.04 384.39) rotate(-90) scale(0.86 1)" font-size="9.6" fill="#ee7070" stroke="#ee7070" stroke-width="0.15" text-anchor="end" font-weight="normal" >-5.9</text>
<text transform="translate(237.04 363.99) rotate(-90) scale(0.86 1)" font-size="9.6" fill="#1a1a1a" stroke="#1a1a1a" stroke-width="0.25" text-anchor="middle" font-weight="normal" >1.7</text>
<text transform="translate(236.34 462.80) rotate(-90) scale(0.86 1)" font-size="8.5" fill="#231f20" text-anchor="start" font-weight="normal" >CdSe</text>
<rect x="256.40" y="341.55" width="10.2" height="23.03" fill="#c1c0bf"/>
<rect x="256.40" y="337.65" width="10.2" height="3.0" fill="#2a85d3"/>
<rect x="256.40" y="365.48" width="10.2" height="3.0" fill="#ea6262"/>
<text transform="translate(264.44 335.65) rotate(-90) scale(0.86 1)" font-size="9.6" fill="#3a8fd8" stroke="#3a8fd8" stroke-width="0.15" text-anchor="start" font-weight="normal" >-3.8</text>
<text transform="translate(264.44 370.48) rotate(-90) scale(0.86 1)" font-size="9.6" fill="#ee7070" stroke="#ee7070" stroke-width="0.15" text-anchor="end" font-weight="normal" >-5.2</text>
<text transform="translate(264.44 353.06) rotate(-90) scale(0.86 1)" font-size="9.6" fill="#1a1a1a" stroke="#1a1a1a" stroke-width="0.25" text-anchor="middle" font-weight="normal" >1.4</text>
<text transform="translate(263.74 462.80) rotate(-90) scale(0.86 1)" font-size="8.5" fill="#231f20" text-anchor="start" font-weight="normal" >CdTe</text>
<rect x="283.80" y="345.52" width="10.2" height="42.90" fill="#c1c0bf"/>
<rect x="283.80" y="341.62" width="10.2" height="3.0" fill="#2a85d3"/>
<rect x="283.80" y="389.32" width="10.2" height="3.0" fill="#ea6262"/>
<text transform="translate(291.84 339.62) rotate(-90) scale(0.86 1)" font-size="9.6" fill="#3a8fd8" stroke="#3a8fd8" stroke-width="0.15" text-anchor="start" font-weight="normal" >-4.0</text>
<text transform="translate(291.84 394.32) rotate(-90) scale(0.86 1)" font-size="9.6" fill="#ee7070" stroke="#ee7070" stroke-width="0.15" text-anchor="end" font-weight="normal" >-6.4</text>
<text transform="translate(291.84 366.98) rotate(-90) scale(0.86 1)" font-size="9.6" fill="#1a1a1a" stroke="#1a1a1a" stroke-width="0.25" text-anchor="middle" font-weight="normal" >2.4</text>
<text transform="translate(291.14 462.80) rotate(-90) scale(0.86 1)" font-size="8.5" fill="#231f20" text-anchor="start" font-weight="normal" >CdS</text>
<text transform="translate(322.7 347.4) scale(0.84 1)" font-size="10" fill="#222" stroke="#222" stroke-width="0.2">H<tspan font-size="7" dy="2">2</tspan><tspan dy="-2">O/H</tspan><tspan font-size="7" dy="2">2</tspan></text>
<text transform="translate(321.9 370.9) scale(0.84 1)" font-size="10" fill="#222" stroke="#222" stroke-width="0.2">O<tspan font-size="7" dy="2">2</tspan><tspan dy="-2">/H</tspan><tspan font-size="7" dy="2">2</tspan><tspan dy="-2">O</tspan></text>
<rect x="356" y="263.1" width="327.7" height="214" fill="#f9f9f9"/>
<text x="358.2" y="278.3" font-size="17" font-weight="bold" fill="#231815">d</text>
<line x1="387.5" y1="284.5" x2="387.5" y2="463.63" stroke="#222" stroke-width="1"/>
<line x1="383.9" y1="284.50" x2="387.5" y2="284.50" stroke="#222" stroke-width="1"/>
<text transform="translate(382.2 288.10) scale(1 1)" font-size="10.2" text-anchor="end" fill="#222">-1</text>
<line x1="385.5" y1="297.30" x2="387.5" y2="297.30" stroke="#222" stroke-width="1"/>
<line x1="383.9" y1="310.09" x2="387.5" y2="310.09" stroke="#222" stroke-width="1"/>
<text transform="translate(382.2 313.69) scale(1 1)" font-size="10.2" text-anchor="end" fill="#222">-2</text>
<line x1="385.5" y1="322.88" x2="387.5" y2="322.88" stroke="#222" stroke-width="1"/>
<line x1="383.9" y1="335.68" x2="387.5" y2="335.68" stroke="#222" stroke-width="1"/>
<text transform="translate(382.2 339.28) scale(1 1)" font-size="10.2" text-anchor="end" fill="#222">-3</text>
<line x1="385.5" y1="348.48" x2="387.5" y2="348.48" stroke="#222" stroke-width="1"/>
<line x1="383.9" y1="361.27" x2="387.5" y2="361.27" stroke="#222" stroke-width="1"/>
<text transform="translate(382.2 364.87) scale(1 1)" font-size="10.2" text-anchor="end" fill="#222">-4</text>
<line x1="385.5" y1="374.06" x2="387.5" y2="374.06" stroke="#222" stroke-width="1"/>
<line x1="383.9" y1="386.86" x2="387.5" y2="386.86" stroke="#222" stroke-width="1"/>
<text transform="translate(382.2 390.46) scale(1 1)" font-size="10.2" text-anchor="end" fill="#222">-5</text>
<line x1="385.5" y1="399.65" x2="387.5" y2="399.65" stroke="#222" stroke-width="1"/>
<line x1="383.9" y1="412.45" x2="387.5" y2="412.45" stroke="#222" stroke-width="1"/>
<text transform="translate(382.2 416.05) scale(1 1)" font-size="10.2" text-anchor="end" fill="#222">-6</text>
<line x1="385.5" y1="425.25" x2="387.5" y2="425.25" stroke="#222" stroke-width="1"/>
<line x1="383.9" y1="438.04" x2="387.5" y2="438.04" stroke="#222" stroke-width="1"/>
<text transform="translate(382.2 441.64) scale(1 1)" font-size="10.2" text-anchor="end" fill="#222">-7</text>
<line x1="385.5" y1="450.84" x2="387.5" y2="450.84" stroke="#222" stroke-width="1"/>
<line x1="383.9" y1="463.63" x2="387.5" y2="463.63" stroke="#222" stroke-width="1"/>
<text transform="translate(382.2 467.23) scale(1 1)" font-size="10.2" text-anchor="end" fill="#222">-8</text>
<text transform="translate(366.60 307.80) rotate(-90) scale(0.92 1)" font-size="8.4" fill="#111" text-anchor="middle" font-weight="bold" ><tspan font-style="italic">E</tspan> vs. <tspan font-style="italic">Vacuum</tspan></text>
<line x1="639.5" y1="284.5" x2="639.5" y2="463.63" stroke="#222" stroke-width="1"/>
<line x1="635.9" y1="295.76" x2="639.5" y2="295.76" stroke="#222" stroke-width="1"/>
<text transform="translate(643.6 299.36) scale(1 1)" font-size="10.2" fill="#222">-3</text>
<line x1="635.9" y1="321.35" x2="639.5" y2="321.35" stroke="#222" stroke-width="1"/>
<text transform="translate(643.6 324.95) scale(1 1)" font-size="10.2" fill="#222">-2</text>
<line x1="635.9" y1="346.94" x2="639.5" y2="346.94" stroke="#222" stroke-width="1"/>
<text transform="translate(643.6 350.54) scale(1 1)" font-size="10.2" fill="#222">-1</text>
<line x1="635.9" y1="372.53" x2="639.5" y2="372.53" stroke="#222" stroke-width="1"/>
<text transform="translate(643.6 376.13) scale(1 1)" font-size="10.2" fill="#222">0</text>
<line x1="635.9" y1="398.12" x2="639.5" y2="398.12" stroke="#222" stroke-width="1"/>
<text transform="translate(643.6 401.72) scale(1 1)" font-size="10.2" fill="#222">1</text>
<line x1="635.9" y1="423.71" x2="639.5" y2="423.71" stroke="#222" stroke-width="1"/>
<text transform="translate(643.6 427.31) scale(1 1)" font-size="10.2" fill="#222">2</text>
<line x1="635.9" y1="449.30" x2="639.5" y2="449.30" stroke="#222" stroke-width="1"/>
<text transform="translate(643.6 452.90) scale(1 1)" font-size="10.2" fill="#222">3</text>
<line x1="637.5" y1="308.55" x2="639.5" y2="308.55" stroke="#222" stroke-width="1"/>
<line x1="637.5" y1="334.14" x2="639.5" y2="334.14" stroke="#222" stroke-width="1"/>
<line x1="637.5" y1="359.73" x2="639.5" y2="359.73" stroke="#222" stroke-width="1"/>
<line x1="637.5" y1="385.32" x2="639.5" y2="385.32" stroke="#222" stroke-width="1"/>
<line x1="637.5" y1="410.91" x2="639.5" y2="410.91" stroke="#222" stroke-width="1"/>
<line x1="637.5" y1="436.50" x2="639.5" y2="436.50" stroke="#222" stroke-width="1"/>
<line x1="637.5" y1="462.09" x2="639.5" y2="462.09" stroke="#222" stroke-width="1"/>
<text transform="translate(664.20 316.60) rotate(-90) scale(0.89 1)" font-size="8.6" fill="#111" text-anchor="middle" font-weight="bold" ><tspan font-style="italic">E</tspan> vs. NHE (pH=13.6)</text>
<rect x="395.90" y="337.68" width="10.2" height="72.77" fill="#e3e3e3"/>
<rect x="395.90" y="333.68" width="10.2" height="4.0" fill="#2a85d3"/>
<rect x="395.90" y="410.45" width="10.2" height="4.0" fill="#ea6262"/>
<text transform="translate(403.94 331.68) rotate(-90) scale(0.86 1)" font-size="9.6" fill="#3a8fd8" stroke="#3a8fd8" stroke-width="0.15" text-anchor="start" font-weight="normal" >-3.0</text>
<text transform="translate(403.94 416.45) rotate(-90) scale(0.86 1)" font-size="9.6" fill="#ee7070" stroke="#ee7070" stroke-width="0.15" text-anchor="end" font-weight="normal" >-6.0</text>
<text transform="translate(403.94 374.06) rotate(-90) scale(0.86 1)" font-size="9.6" fill="#222" stroke="#222" stroke-width="0.08" text-anchor="middle" font-weight="normal" >3.0</text>
<text transform="translate(403.14 464.80) rotate(-90) scale(0.95 1)" font-size="8.2" fill="#231f20" text-anchor="start" font-weight="normal" >FAPbCl<tspan font-size="5.903999999999999" dy="2">3</tspan><tspan dy="-2"></tspan></text>
<rect x="423.40" y="335.12" width="10.2" height="70.21" fill="#d9d9d9"/>
<rect x="423.40" y="331.12" width="10.2" height="4.0" fill="#2a85d3"/>
<rect x="423.40" y="405.33" width="10.2" height="4.0" fill="#ea6262"/>
<text transform="translate(431.44 329.12) rotate(-90) scale(0.86 1)" font-size="9.6" fill="#3a8fd8" stroke="#3a8fd8" stroke-width="0.15" text-anchor="start" font-weight="normal" >-2.9</text>
<text transform="translate(431.44 411.33) rotate(-90) scale(0.86 1)" font-size="9.6" fill="#ee7070" stroke="#ee7070" stroke-width="0.15" text-anchor="end" font-weight="normal" >-5.8</text>
<text transform="translate(431.44 370.23) rotate(-90) scale(0.86 1)" font-size="9.6" fill="#222" stroke="#222" stroke-width="0.08" text-anchor="middle" font-weight="normal" >2.9</text>
<text transform="translate(430.64 464.80) rotate(-90) scale(0.95 1)" font-size="8.2" fill="#231f20" text-anchor="start" font-weight="normal" >MAPbCl<tspan font-size="5.903999999999999" dy="2">3</tspan><tspan dy="-2"></tspan></text>
<rect x="450.90" y="342.80" width="10.2" height="70.21" fill="#d4d4d4"/>
<rect x="450.90" y="338.80" width="10.2" height="4.0" fill="#2a85d3"/>
<rect x="450.90" y="413.01" width="10.2" height="4.0" fill="#ea6262"/>
<text transform="translate(458.94 336.80) rotate(-90) scale(0.86 1)" font-size="9.6" fill="#3a8fd8" stroke="#3a8fd8" stroke-width="0.15" text-anchor="start" font-weight="normal" >-3.2</text>
<text transform="translate(458.94 419.01) rotate(-90) scale(0.86 1)" font-size="9.6" fill="#ee7070" stroke="#ee7070" stroke-width="0.15" text-anchor="end" font-weight="normal" >-6.1</text>
<text transform="translate(458.94 377.90) rotate(-90) scale(0.86 1)" font-size="9.6" fill="#222" stroke="#222" stroke-width="0.08" text-anchor="middle" font-weight="normal" >2.9</text>
<text transform="translate(458.14 464.80) rotate(-90) scale(0.95 1)" font-size="8.2" fill="#231f20" text-anchor="start" font-weight="normal" >CsPbCl<tspan font-size="5.903999999999999" dy="2">3</tspan><tspan dy="-2"></tspan></text>
<rect x="478.40" y="347.92" width="10.2" height="57.42" fill="#f5c546"/>
<rect x="478.40" y="343.92" width="10.2" height="4.0" fill="#2a85d3"/>
<rect x="478.40" y="405.33" width="10.2" height="4.0" fill="#ea6262"/>
<text transform="translate(486.44 341.92) rotate(-90) scale(0.86 1)" font-size="9.6" fill="#3a8fd8" stroke="#3a8fd8" stroke-width="0.15" text-anchor="start" font-weight="normal" >-3.4</text>
<text transform="translate(486.44 411.33) rotate(-90) scale(0.86 1)" font-size="9.6" fill="#ee7070" stroke="#ee7070" stroke-width="0.15" text-anchor="end" font-weight="normal" >-5.8</text>
<text transform="translate(486.44 376.62) rotate(-90) scale(0.86 1)" font-size="9.6" fill="#111" stroke="#111" stroke-width="0.08" text-anchor="middle" font-weight="normal" >2.4</text>
<text transform="translate(485.64 464.80) rotate(-90) scale(0.95 1)" font-size="8.2" fill="#231f20" text-anchor="start" font-weight="normal" >CsPbBr<tspan font-size="5.903999999999999" dy="2">3</tspan><tspan dy="-2"></tspan></text>
<rect x="505.90" y="347.92" width="10.2" height="52.30" fill="#f1a55c"/>
<rect x="505.90" y="343.92" width="10.2" height="4.0" fill="#2a85d3"/>
<rect x="505.90" y="400.21" width="10.2" height="4.0" fill="#ea6262"/>
<text transform="translate(513.94 341.92) rotate(-90) scale(0.86 1)" font-size="9.6" fill="#3a8fd8" stroke="#3a8fd8" stroke-width="0.15" text-anchor="start" font-weight="normal" >-3.4</text>
<text transform="translate(513.94 406.21) rotate(-90) scale(0.86 1)" font-size="9.6" fill="#ee7070" stroke="#ee7070" stroke-width="0.15" text-anchor="end" font-weight="normal" >-5.6</text>
<text transform="translate(513.94 374.06) rotate(-90) scale(0.86 1)" font-size="9.6" fill="#111" stroke="#111" stroke-width="0.08" text-anchor="middle" font-weight="normal" >2.2</text>
<text transform="translate(513.14 464.80) rotate(-90) scale(0.95 1)" font-size="8.2" fill="#231f20" text-anchor="start" font-weight="normal" >FAPbBr<tspan font-size="5.903999999999999" dy="2">3</tspan><tspan dy="-2"></tspan></text>
<rect x="533.40" y="347.92" width="10.2" height="52.30" fill="#ee9238"/>
<rect x="533.40" y="343.92" width="10.2" height="4.0" fill="#2a85d3"/>
<rect x="533.40" y="400.21" width="10.2" height="4.0" fill="#ea6262"/>
<text transform="translate(541.44 341.92) rotate(-90) scale(0.86 1)" font-size="9.6" fill="#3a8fd8" stroke="#3a8fd8" stroke-width="0.15" text-anchor="start" font-weight="normal" >-3.4</text>
<text transform="translate(541.44 406.21) rotate(-90) scale(0.86 1)" font-size="9.6" fill="#ee7070" stroke="#ee7070" stroke-width="0.15" text-anchor="end" font-weight="normal" >-5.6</text>
<text transform="translate(541.44 374.06) rotate(-90) scale(0.86 1)" font-size="9.6" fill="#111" stroke="#111" stroke-width="0.08" text-anchor="middle" font-weight="normal" >2.2</text>
<text transform="translate(540.64 464.80) rotate(-90) scale(0.95 1)" font-size="8.2" fill="#231f20" text-anchor="start" font-weight="normal" >MAPbBr<tspan font-size="5.903999999999999" dy="2">3</tspan><tspan dy="-2"></tspan></text>
<rect x="560.90" y="353.03" width="10.2" height="42.06" fill="#5a3219"/>
<rect x="560.90" y="349.03" width="10.2" height="4.0" fill="#2a85d3"/>
<rect x="560.90" y="395.10" width="10.2" height="4.0" fill="#ea6262"/>
<text transform="translate(568.94 347.03) rotate(-90) scale(0.86 1)" font-size="9.6" fill="#3a8fd8" stroke="#3a8fd8" stroke-width="0.15" text-anchor="start" font-weight="normal" >-3.6</text>
<text transform="translate(568.94 401.10) rotate(-90) scale(0.86 1)" font-size="9.6" fill="#ee7070" stroke="#ee7070" stroke-width="0.15" text-anchor="end" font-weight="normal" >-5.4</text>
<text transform="translate(568.94 374.06) rotate(-90) scale(0.86 1)" font-size="9.6" fill="#fff" stroke="#fff" stroke-width="0.08" text-anchor="middle" font-weight="normal" >1.8</text>
<text transform="translate(568.14 464.80) rotate(-90) scale(0.95 1)" font-size="8.2" fill="#231f20" text-anchor="start" font-weight="normal" >CsPbI<tspan font-size="5.903999999999999" dy="2">3</tspan><tspan dy="-2"></tspan></text>
<rect x="588.40" y="360.71" width="10.2" height="34.38" fill="#141414"/>
<rect x="588.40" y="356.71" width="10.2" height="4.0" fill="#2a85d3"/>
<rect x="588.40" y="395.10" width="10.2" height="4.0" fill="#ea6262"/>
<text transform="translate(596.44 354.71) rotate(-90) scale(0.86 1)" font-size="9.6" fill="#3a8fd8" stroke="#3a8fd8" stroke-width="0.15" text-anchor="start" font-weight="normal" >-3.9</text>
<text transform="translate(596.44 401.10) rotate(-90) scale(0.86 1)" font-size="9.6" fill="#ee7070" stroke="#ee7070" stroke-width="0.15" text-anchor="end" font-weight="normal" >-5.4</text>
<text transform="translate(596.44 377.90) rotate(-90) scale(0.86 1)" font-size="9.6" fill="#fff" stroke="#fff" stroke-width="0.08" text-anchor="middle" font-weight="normal" >1.5</text>
<text transform="translate(595.64 464.80) rotate(-90) scale(0.95 1)" font-size="8.2" fill="#231f20" text-anchor="start" font-weight="normal" >MAPbI<tspan font-size="5.903999999999999" dy="2">3</tspan><tspan dy="-2"></tspan></text>
<rect x="615.90" y="363.27" width="10.2" height="31.83" fill="#141414"/>
<rect x="615.90" y="359.27" width="10.2" height="4.0" fill="#2a85d3"/>
<rect x="615.90" y="395.10" width="10.2" height="4.0" fill="#ea6262"/>
<text transform="translate(623.94 357.27) rotate(-90) scale(0.86 1)" font-size="9.6" fill="#3a8fd8" stroke="#3a8fd8" stroke-width="0.15" text-anchor="start" font-weight="normal" >-4.0</text>
<text transform="translate(623.94 401.10) rotate(-90) scale(0.86 1)" font-size="9.6" fill="#ee7070" stroke="#ee7070" stroke-width="0.15" text-anchor="end" font-weight="normal" >-5.4</text>
<text transform="translate(623.94 379.18) rotate(-90) scale(0.86 1)" font-size="9.6" fill="#fff" stroke="#fff" stroke-width="0.08" text-anchor="middle" font-weight="normal" >1.4</text>
<text transform="translate(623.14 464.80) rotate(-90) scale(0.95 1)" font-size="8.2" fill="#231f20" text-anchor="start" font-weight="normal" >FAPbI<tspan font-size="5.903999999999999" dy="2">3</tspan><tspan dy="-2"></tspan></text>
<line x1="388.5" y1="352.50" x2="677" y2="352.50" stroke="#bababa" stroke-width="1" stroke-dasharray="2.4 2.3"/>
<line x1="388.5" y1="384.50" x2="677" y2="384.50" stroke="#bababa" stroke-width="1" stroke-dasharray="2.4 2.3"/>
<text transform="translate(653.8 366.3) scale(0.84 1)" font-size="10" fill="#222" stroke="#222" stroke-width="0.2">H<tspan font-size="7" dy="2">2</tspan><tspan dy="-2">O/H</tspan><tspan font-size="7" dy="2">2</tspan></text>
<text transform="translate(653 395.8) scale(0.84 1)" font-size="10" fill="#222" stroke="#222" stroke-width="0.2">O<tspan font-size="7" dy="2">2</tspan><tspan dy="-2">/H</tspan><tspan font-size="7" dy="2">2</tspan><tspan dy="-2">O</tspan></text>
</svg></body></html>
